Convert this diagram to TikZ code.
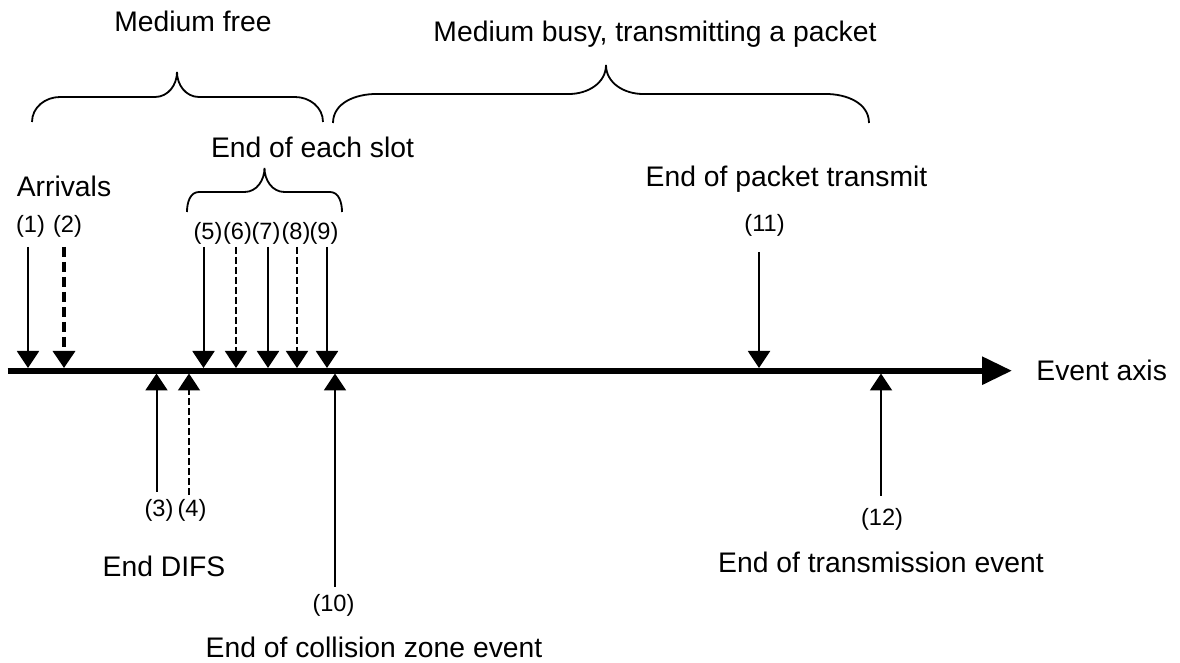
\documentclass[tikz,border=0pt]{standalone}
\usepackage{fontspec}
\setmainfont{Liberation Sans}
\usetikzlibrary{arrows.meta}
% curly brace with wide rounded ends: x1, x2, end y, flat y, tip x, tip y, corner, tip half width
\newcommand{\spanbrace}[8]{%
  \draw[curly] (#1,#3) to[out=90,in=180] ({#1+#7},#4) -- ({#5-#8},#4) to[out=0,in=270] (#5,#6)
    to[out=270,in=180] ({#5+#8},#4) -- ({#2-#7},#4) to[out=0,in=90] (#2,#3);}
\begin{document}
\begin{tikzpicture}[x=0.5pt,y=-0.5pt, big/.style={font=\fontsize{14.15}{17}\selectfont,inner sep=0pt,anchor=base}, num/.style={font=\fontsize{11.8}{14}\selectfont,inner sep=0pt,anchor=base}, curly/.style={line width=0.9pt}, evt/.style={line width=1pt,-{Triangle[length=8.5pt,width=11pt]}}, evtdash/.style={evt,line width=0.9pt,dash pattern=on 3.3pt off 1.7pt}, evtbold/.style={evt,line width=1.75pt,dash pattern=on 5pt off 2.5pt}, axisline/.style={line width=3pt,-{Triangle[length=15pt,width=13.5pt]}}]
\useasboundingbox (0,0) rectangle (1180,663);
% headings and their braces
\node[big] (free) at (193,32) {Medium free};
\node[big] (busy) at (655,42) {Medium busy, transmitting a packet};
\node[big] (slot) at (312.5,158) {End of each slot};
\spanbrace{32}{323}{122}{97}{177}{72}{28}{22}
\spanbrace{333}{869}{123}{94}{606}{65}{43}{37}
\spanbrace{187}{342}{212}{192}{264.5}{168}{12}{20}
\node[big] (arr) at (64,197) {Arrivals};
\node[big] (pkt) at (786.5,187) {End of packet transmit};
\node[big] (difs) at (164,577) {End DIFS};
\node[big] (coll) at (374,658) {End of collision zone event};
\node[big] (trx) at (881,573) {End of transmission event};
% event axis
\coordinate (ax0) at (7.5,370.7); \coordinate (ax1) at (1012,370.7);
\node[big,anchor=base west] (evaxis) at (1036,381) {Event axis};
\draw[axisline] (ax0) -- (ax1);
% event numbers
\node[num] (n1) at (30.5,233) {(1)}; \node[num] (n2) at (67.5,233) {(2)};
\node[num] (n5) at (208,240) {(5)}; \node[num] (n6) at (237.5,240) {(6)}; \node[num] (n7) at (266,240) {(7)}; \node[num] (n8) at (296,240) {(8)}; \node[num] (n9) at (324,240) {(9)};
\node[num] (n11) at (764.5,232) {(11)};
\node[num] (n3) at (159,517) {(3)}; \node[num] (n4) at (192,517) {(4)};
\node[num] (n10) at (333.5,611) {(10)}; \node[num] (n12) at (882,526) {(12)};
% where each event meets the axis, and the loose ends of the arrows
\coordinate (t1) at (28,368); \coordinate (t2) at (64,368); \coordinate (t5) at (203.5,368); \coordinate (t6) at (236,368); \coordinate (t7) at (268,368); \coordinate (t8) at (297,368); \coordinate (t9) at (327,368); \coordinate (t11) at (759,368);
\coordinate (t3) at (156.5,373.5); \coordinate (t4) at (189,373.5); \coordinate (t10) at (335,373.5); \coordinate (t12) at (881,373.5);
\coordinate (f1) at (28,247); \coordinate (f2) at (64,247); \coordinate (f5) at (203.5,247); \coordinate (f6) at (236,247); \coordinate (f7) at (268,247); \coordinate (f8) at (297,247); \coordinate (f9) at (327,247); \coordinate (f11) at (759,252);
\coordinate (f3) at (156.5,492); \coordinate (f4) at (189,495); \coordinate (f10) at (335,587); \coordinate (f12) at (881,496);
\draw[evt] (f1)--(t1);\draw[evtbold] (f2)--(t2);\draw[evt] (f5)--(t5);\draw[evtdash] (f6)--(t6);\draw[evt] (f7)--(t7);\draw[evtdash] (f8)--(t8);\draw[evt] (f9)--(t9);\draw[evt] (f11)--(t11);
\draw[evt] (f3)--(t3);\draw[evtdash] (f4)--(t4);\draw[evt] (f10)--(t10);\draw[evt] (f12)--(t12);
\end{tikzpicture}
\end{document}
